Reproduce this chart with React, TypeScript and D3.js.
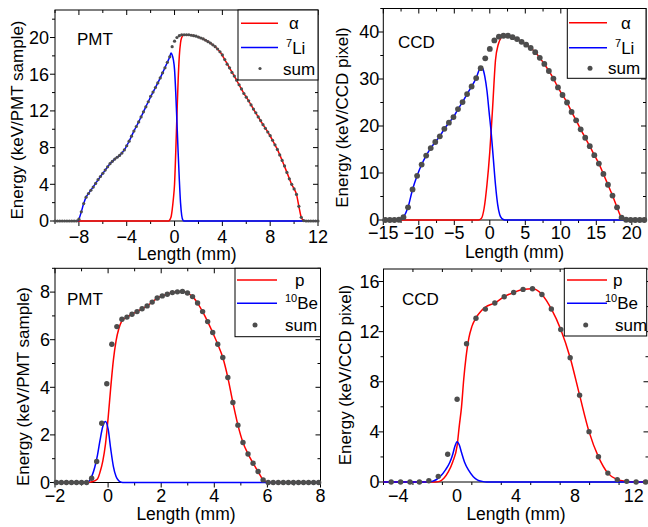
import React from 'react';
import * as d3 from 'd3';

// ---------- Panel A (PMT, alpha / 7Li) ----------
const A_SUM_X = [
  -10, -9.8, -9.6, -9.4, -9.2, -9, -8.8, -8.6, -8.4, -8.2,
  -8, -7.8, -7.6, -7.4, -7.2, -7, -6.8, -6.6, -6.4, -6.2,
  -6, -5.8, -5.6, -5.4, -5.2, -5, -4.8, -4.6, -4.4, -4.2,
  -4, -3.8, -3.6, -3.4, -3.2, -3, -2.8, -2.6, -2.4, -2.2,
  -2, -1.8, -1.6, -1.4, -1.2, -1, -0.8, -0.6, -0.4, -0.2,
  0, 0.2, 0.4, 0.6, 0.8, 1, 1.2, 1.4, 1.6, 1.8,
  2, 2.2, 2.4, 2.6, 2.8, 3, 3.2, 3.4, 3.6, 3.8,
  4, 4.2, 4.4, 4.6, 4.8, 5, 5.2, 5.4, 5.6, 5.8,
  6, 6.2, 6.4, 6.6, 6.8, 7, 7.2, 7.4, 7.6, 7.8,
  8, 8.2, 8.4, 8.6, 8.8, 9, 9.2, 9.4, 9.6, 9.8,
  10, 10.2, 10.4, 10.6, 10.8, 11, 11.2, 11.4, 11.6, 11.8,
  12,
];
const A_SUM_Y = [
  0, 0, 0, 0, 0, 0, 0, 0, 0, 0,
  0.2, 1.0, 1.9, 2.6, 3.0, 3.35, 3.7, 4.1, 4.5, 4.85,
  5.2, 5.55, 5.9, 6.25, 6.5, 6.75, 6.95, 7.15, 7.4, 7.75,
  8.2, 8.7, 9.25, 9.8, 10.3, 10.8, 11.35, 11.9, 12.45, 13.0,
  13.6, 14.05, 14.55, 15.05, 15.6, 16.15, 16.7, 17.3, 17.9, 19.0,
  19.6, 20.0, 20.2, 20.3, 20.3, 20.3, 20.3, 20.25, 20.2, 20.15,
  20.05, 19.95, 19.85, 19.7, 19.55, 19.4, 19.2, 19.0, 18.75, 18.45,
  18.1, 17.6, 17.1, 16.7, 16.2, 15.8, 15.35, 14.85, 14.4, 13.9,
  13.5, 13.1, 12.65, 12.2, 11.8, 11.35, 10.95, 10.5, 10.1, 9.7,
  9.3, 8.8, 8.3, 7.8, 7.2, 6.6, 6.0, 5.3, 4.6, 4.0,
  3.5, 2.9, 1.6, 0.4, 0.05, 0, 0, 0, 0, 0,
  0,
];
const A_ALPHA_X = [
  -8.1, -0.5, -0.3, -0.2, -0.1, 0, 0.1, 0.2, 0.3, 0.4,
  0.5, 0.6, 0.8, 1.0, 1.4, 1.8, 2.2, 2.6, 3.0, 3.4,
  3.8, 4.2, 4.6, 5.0, 5.4, 5.8, 6.2, 6.6, 7.0, 7.4,
  7.8, 8.2, 8.6, 9.0, 9.4, 9.8, 10.0, 10.2, 10.4, 10.6,
  10.8, 11.0, 12.0,
];
const A_ALPHA_Y = [
  0, 0, 0.4, 1.2, 2.4, 4.0, 7.5, 11.5, 15.3, 18.0,
  19.4, 20.0, 20.3, 20.3, 20.25, 20.15, 19.95, 19.7, 19.4, 19.0,
  18.45, 17.6, 16.7, 15.8, 14.85, 13.9, 13.1, 12.2, 11.35, 10.5,
  9.7, 8.8, 7.8, 6.6, 5.3, 4.0, 3.5, 2.9, 1.6, 0.4,
  0.05, 0, 0,
];
const A_LI_X = [
  -8.1, -8.0, -7.8, -7.6, -7.4, -7.2, -7.0, -6.6, -6.2, -5.8,
  -5.4, -5.0, -4.6, -4.2, -3.8, -3.4, -3.0, -2.6, -2.2, -1.8,
  -1.4, -1.0, -0.6, -0.4, -0.3, -0.2, -0.1, 0, 0.1, 0.2,
  0.3, 0.4, 0.5, 0.6, 0.7, 0.8, 12,
];
const A_LI_Y = [
  0, 0.2, 1.0, 1.9, 2.6, 3.0, 3.35, 4.1, 4.85, 5.55,
  6.25, 6.75, 7.15, 7.75, 8.7, 9.8, 10.8, 11.9, 13.0, 14.05,
  15.05, 16.15, 17.3, 17.9, 18.3, 18.1, 17.6, 16.5, 14.0, 10.8,
  7.5, 4.5, 2.0, 0.6, 0.1, 0, 0,
];
const A_XTICKS = [-8, -4, 0, 4, 8, 12];
const A_YTICKS = [0, 4, 8, 12, 16, 20];

// ---------- Panel B (CCD, alpha / 7Li) ----------
const B_SUM_X = [
  -14.72, -14.08, -13.44, -12.8, -12.16, -11.52, -10.88, -10.24, -9.6, -8.96,
  -8.32, -7.68, -7.04, -6.4, -5.76, -5.12, -4.48, -3.84, -3.2, -2.56,
  -1.92, -1.28, -0.64, 0, 0.64, 1.28, 1.92, 2.56, 3.2, 3.84,
  4.48, 5.12, 5.76, 6.4, 7.04, 7.68, 8.32, 8.96, 9.6, 10.24,
  10.88, 11.52, 12.16, 12.8, 13.44, 14.08, 14.72, 15.36, 16.0, 16.64,
  17.28, 17.92, 18.56, 19.2, 19.84, 20.48, 21.12, 21.76,
];
const B_SUM_Y = [
  0, 0, 0, 0.05, 0.6, 2.7, 6.5, 9.4, 11.8, 13.7,
  15.3, 16.6, 17.8, 19.4, 20.7, 21.9, 23.6, 25.1, 26.8, 28.4,
  30.2, 32.3, 34.4, 36.4, 38.2, 39.0, 39.2, 39.2, 38.9, 38.5,
  37.9, 37.3, 36.6, 35.7, 34.5, 33.2, 31.7, 30.1, 28.2, 26.6,
  25.0, 23.0, 21.2, 19.3, 17.5, 15.7, 13.8, 12.0, 9.8, 7.5,
  5.2, 2.7, 0.5, 0.05, 0, 0, 0, 0,
];
const B_ALPHA_X = [
  -15, -1.6, -1.2, -0.8, -0.4, 0, 0.4, 0.8, 1.2, 1.6,
  1.92, 2.56, 3.2, 3.84, 4.48, 5.12, 5.76, 6.4, 7.04, 7.68,
  8.32, 8.96, 9.6, 10.24, 10.88, 11.52, 12.16, 12.8, 13.44, 14.08,
  14.72, 15.36, 16.0, 16.64, 17.28, 17.92, 18.56, 19.2, 19.84, 22,
];
const B_ALPHA_Y = [
  0, 0, 0.3, 2.5, 7.5, 14.5, 24, 34, 37.4, 38.8,
  39.2, 39.2, 38.9, 38.5, 37.9, 37.3, 36.6, 35.7, 34.5, 33.2,
  31.7, 30.1, 28.2, 26.6, 25.0, 23.0, 21.2, 19.3, 17.5, 15.7,
  13.8, 12.0, 9.8, 7.5, 5.2, 2.7, 0.5, 0.05, 0, 0,
];
const B_LI_X = [
  -12.6, -12.16, -11.52, -10.88, -10.24, -9.6, -8.96, -8.32, -7.68, -7.04,
  -6.4, -5.76, -5.12, -4.48, -3.84, -3.2, -2.56, -1.92, -1.28, -1.0,
  -0.7, -0.4, -0.1, 0.2, 0.5, 0.8, 1.1, 1.4, 1.7, 2.0,
  2.3, 22,
];
const B_LI_Y = [
  0, 0.6, 2.7, 6.5, 9.4, 11.8, 13.7, 15.3, 16.6, 17.8,
  19.4, 20.7, 21.9, 23.6, 25.1, 26.8, 28.4, 30.2, 32.4, 32.2,
  30.5, 27.5, 23, 18.5, 13, 7.5, 3.4, 1.1, 0.3, 0.05,
  0, 0,
];
const B_XTICKS = [-15, -10, -5, 0, 5, 10, 15, 20];
const B_YTICKS = [0, 10, 20, 30, 40];

// ---------- Panel C (PMT, p / 10Be) ----------
const C_SUM_X = [
  -1.95, -1.76, -1.57, -1.38, -1.19, -1.0, -0.81, -0.62, -0.43, -0.24,
  -0.05, 0.14, 0.33, 0.52, 0.71, 0.9, 1.09, 1.28, 1.47, 1.66,
  1.85, 2.04, 2.23, 2.42, 2.61, 2.8, 2.99, 3.18, 3.37, 3.56,
  3.75, 3.94, 4.13, 4.32, 4.51, 4.7, 4.89, 5.08, 5.27, 5.46,
  5.65, 5.84, 6.03, 6.22, 6.41, 6.6, 6.79, 6.98, 7.17, 7.36,
  7.55, 7.74, 7.93,
];
const C_SUM_Y = [
  0, 0, 0, 0, 0, 0, 0, 0.18, 0.88, 2.49,
  4.15, 5.81, 6.55, 6.86, 6.95, 7.07, 7.18, 7.3, 7.42, 7.58,
  7.75, 7.84, 7.91, 7.98, 8.01, 8.03, 7.96, 7.81, 7.54, 7.18,
  6.76, 6.3, 5.81, 5.25, 4.41, 3.36, 2.41, 1.68, 1.2, 0.81,
  0.46, 0.11, 0, 0, 0, 0, 0, 0, 0, 0,
  0, 0, 0,
];
const C_P_X = [
  -2, -0.8, -0.6, -0.4, -0.3, -0.2, -0.1, 0, 0.1, 0.2,
  0.3, 0.4, 0.5, 0.6, 0.71, 0.9, 1.09, 1.28, 1.47, 1.66,
  1.85, 2.04, 2.23, 2.42, 2.61, 2.8, 2.99, 3.18, 3.37, 3.56,
  3.75, 3.94, 4.13, 4.32, 4.51, 4.7, 4.89, 5.08, 5.27, 5.46,
  5.65, 5.84, 6.03, 8,
];
const C_P_Y = [
  0, 0, 0.03, 0.15, 0.45, 0.9, 1.6, 2.7, 4.0, 5.15,
  5.95, 6.45, 6.75, 6.88, 6.95, 7.07, 7.18, 7.3, 7.42, 7.58,
  7.75, 7.84, 7.91, 7.98, 8.01, 8.03, 7.96, 7.81, 7.54, 7.18,
  6.76, 6.3, 5.81, 5.25, 4.41, 3.36, 2.41, 1.68, 1.2, 0.81,
  0.46, 0.11, 0, 0,
];
const C_BE_X = [-2, -0.8, -0.7, -0.6, -0.5, -0.4, -0.3, -0.2, -0.1, 0, 0.1, 0.2, 0.3, 0.4, 0.5, 0.6, 8];
const C_BE_Y = [0, 0, 0.08, 0.3, 0.65, 1.15, 1.8, 2.35, 2.56, 2.25, 1.4, 0.67, 0.25, 0.07, 0.01, 0, 0];
const C_XTICKS = [-2, 0, 2, 4, 6, 8];
const C_YTICKS = [0, 2, 4, 6, 8];

// ---------- Panel D (CCD, p / 10Be) ----------
const D_SUM_X = [
  -4.48, -3.84, -3.2, -2.56, -1.92, -1.28, -0.64, 0, 0.64, 1.28,
  1.92, 2.56, 3.2, 3.84, 4.48, 5.12, 5.76, 6.4, 7.04, 7.68,
  8.32, 8.96, 9.6, 10.24, 10.88, 11.52, 12.16, 12.8,
];
const D_SUM_Y = [
  0, 0, 0, 0, 0.1, 0.45, 2.22, 6.61, 11.03, 13.07,
  13.8, 14.29, 14.79, 15.13, 15.37, 15.42, 14.97, 13.81, 12.17, 9.92,
  6.93, 4.02, 2.01, 0.71, 0.19, 0.05, 0, 0,
];
const D_P_X = [
  -5, -1.5, -1.2, -0.9, -0.6, -0.3, 0, 0.15, 0.3, 0.45,
  0.6, 0.8, 1.0, 1.28, 1.6, 1.92, 2.56, 3.2, 3.84, 4.48,
  5.12, 5.76, 6.4, 7.04, 7.68, 8.32, 8.96, 9.6, 10.24, 10.88,
  11.52, 12.16, 13,
];
const D_P_Y = [
  0, 0, 0.05, 0.3, 0.8, 1.6, 2.9, 4.5, 6.0, 8.2,
  9.9, 11.5, 12.4, 13.1, 13.6, 13.95, 14.29, 14.79, 15.13, 15.37,
  15.42, 14.97, 13.81, 12.17, 9.92, 6.93, 4.02, 2.01, 0.71, 0.19,
  0.05, 0, 0,
];
const D_BE_X = [-5, -2.0, -1.7, -1.4, -1.1, -0.8, -0.5, -0.3, -0.15, 0, 0.15, 0.3, 0.5, 0.8, 1.1, 1.4, 1.7, 2.0, 13];
const D_BE_Y = [0, 0, 0.05, 0.2, 0.5, 0.95, 1.55, 2.2, 2.85, 3.22, 2.95, 2.35, 1.6, 0.9, 0.42, 0.15, 0.05, 0, 0];
const D_XTICKS = [-4, 0, 4, 8, 12];
const D_YTICKS = [0, 4, 8, 12, 16];

const FONT = "'Liberation Sans', Arial, Helvetica, sans-serif";
const RED = '#ff0000';
const BLUE = '#0000ff';
const DOT = '#4d4d4d';
const TICK_FS = 18;
const TITLE_FS = 17.5;
const LABEL_FS = 17;

type Leg = {
  box: [number, number, number, number];
  line: [number, number];
  rows: [number, number, number];
  dotX: number;
  textX: [number, number, number];
  l1: string;
  l2sup: string;
  l2: string;
  dotR: number;
};

type Cfg = {
  xDomain: [number, number];
  xRange: [number, number];
  yDomain: [number, number];
  yRange: [number, number];
  xTicks: number[];
  yTicks: number[];
  xMinor: number;
  yMinor: number;
  xLabelY: number;
  yLabelGap: number;
  xTitle: [number, number];
  yTitle: [number, number];
  yTitleText: string;
  tag: string;
  tagPos: [number, number];
  red: [number[], number[]];
  blue: [number[], number[]];
  sum: [number[], number[]];
  dotR: number;
  legend: Leg;
};

const fmt = (v: number) => (v < 0 ? '\u2212' + Math.abs(v) : String(v));

function Panel({ c }: { c: Cfg }) {
  const xs = d3.scaleLinear().domain(c.xDomain).range(c.xRange);
  const ys = d3.scaleLinear().domain(c.yDomain).range(c.yRange);
  const line = d3
    .line<[number, number]>()
    .x((d) => xs(d[0]))
    .y((d) => ys(d[1]))
    .curve(d3.curveMonotoneX);
  const zip = (a: number[], b: number[]) => a.map((v, i) => [v, b[i]] as [number, number]);
  const [x0, x1] = c.xRange;
  const [y0, y1] = c.yRange; // y0 bottom, y1 top
  const xMinorTicks = d3.range(c.xDomain[0], c.xDomain[1] + 1e-6, c.xMinor);
  const yMinorTicks = d3.range(c.yDomain[0], c.yDomain[1] + 1e-6, c.yMinor);
  const isMajor = (v: number, arr: number[]) => arr.some((t) => Math.abs(t - v) < 1e-6);
  const L = c.legend;
  return (
    <g>
      {xMinorTicks.map((v, i) => {
        const len = isMajor(v, c.xTicks) ? 5 : 3;
        const X = xs(v);
        return (
          <g key={'xt' + i}>
            <line x1={X} x2={X} y1={y0} y2={y0 + len} stroke="#000" strokeWidth={1} />
            <line x1={X} x2={X} y1={y1} y2={y1 + len} stroke="#000" strokeWidth={1} />
          </g>
        );
      })}
      {yMinorTicks.map((v, i) => {
        const len = isMajor(v, c.yTicks) ? 5 : 3;
        const Y = ys(v);
        return (
          <g key={'yt' + i}>
            <line x1={x0} x2={x0 - len} y1={Y} y2={Y} stroke="#000" strokeWidth={1} />
            <line x1={x1} x2={x1 - len} y1={Y} y2={Y} stroke="#000" strokeWidth={1} />
          </g>
        );
      })}
      <rect x={x0} y={y1} width={x1 - x0} height={y0 - y1} fill="none" stroke="#000" strokeWidth={1} />
      {c.xTicks.map((v) => (
        <text key={'xl' + v} x={xs(v)} y={c.xLabelY} textAnchor="middle" fontSize={TICK_FS} fontFamily={FONT}>
          {fmt(v)}
        </text>
      ))}
      {c.yTicks.map((v) => (
        <text
          key={'yl' + v}
          x={x0 - c.yLabelGap}
          y={ys(v)}
          dy="0.35em"
          textAnchor="end"
          fontSize={TICK_FS}
          fontFamily={FONT}
        >
          {fmt(v)}
        </text>
      ))}
      <text x={c.xTitle[0]} y={c.xTitle[1]} textAnchor="middle" fontSize={TITLE_FS} fontFamily={FONT}>
        Length (mm)
      </text>
      <text
        transform={`translate(${c.yTitle[0]},${c.yTitle[1]}) rotate(-90)`}
        textAnchor="middle"
        fontSize={LABEL_FS}
        fontFamily={FONT}
      >
        {c.yTitleText}
      </text>
      <text x={c.tagPos[0]} y={c.tagPos[1]} fontSize={LABEL_FS} fontFamily={FONT}>
        {c.tag}
      </text>
      <path d={line(zip(c.red[0], c.red[1])) || ''} fill="none" stroke={RED} strokeWidth={1.5} />
      <path d={line(zip(c.blue[0], c.blue[1])) || ''} fill="none" stroke={BLUE} strokeWidth={1.5} />
      {c.sum[0].map((v, i) => (
        <circle key={'d' + i} cx={xs(v)} cy={ys(c.sum[1][i])} r={c.dotR} fill={DOT} />
      ))}
      <rect
        x={L.box[0]}
        y={L.box[1]}
        width={L.box[2] - L.box[0]}
        height={L.box[3] - L.box[1]}
        fill="#fff"
        stroke="#000"
        strokeWidth={1}
      />
      <line x1={L.line[0]} x2={L.line[1]} y1={L.rows[0]} y2={L.rows[0]} stroke={RED} strokeWidth={1.5} />
      <line x1={L.line[0]} x2={L.line[1]} y1={L.rows[1]} y2={L.rows[1]} stroke={BLUE} strokeWidth={1.5} />
      <circle cx={L.dotX} cy={L.rows[2]} r={L.dotR} fill={DOT} />
      <text x={L.textX[0]} y={L.rows[0] + 6} fontSize={LABEL_FS} fontFamily={FONT}>
        {L.l1}
      </text>
      <text x={L.textX[1]} y={L.rows[1] + 6} fontSize={LABEL_FS} fontFamily={FONT}>
        <tspan fontSize={11} dy={-7}>
          {L.l2sup}
        </tspan>
        <tspan dy={7}>{L.l2}</tspan>
      </text>
      <text x={L.textX[2]} y={L.rows[2] + 6} fontSize={LABEL_FS} fontFamily={FONT}>
        sum
      </text>
    </g>
  );
}

const panels: Cfg[] = [
  {
    xDomain: [-10, 12],
    xRange: [55, 318],
    yDomain: [0, 23],
    yRange: [221, 10],
    xTicks: A_XTICKS,
    yTicks: A_YTICKS,
    xMinor: 2,
    yMinor: 2,
    xLabelY: 243,
    yLabelGap: 6,
    xTitle: [187, 260],
    yTitle: [23, 120],
    yTitleText: 'Energy (keV/PMT sample)',
    tag: 'PMT',
    tagPos: [77, 45],
    red: [A_ALPHA_X, A_ALPHA_Y],
    blue: [A_LI_X, A_LI_Y],
    sum: [A_SUM_X, A_SUM_Y],
    dotR: 1.6,
    legend: {
      box: [238, 10, 318, 80],
      line: [241, 278],
      rows: [23.3, 47.5, 68.5],
      dotX: 260,
      textX: [289, 286, 283],
      l1: '\u03b1',
      l2sup: '7',
      l2: 'Li',
      dotR: 1.6,
    },
  },
  {
    xDomain: [-15, 22],
    xRange: [383.3, 646],
    yDomain: [0, 45],
    yRange: [220, 8.5],
    xTicks: B_XTICKS,
    yTicks: B_YTICKS,
    xMinor: 2.5,
    yMinor: 5,
    xLabelY: 238.5,
    yLabelGap: 4,
    xTitle: [514.5, 258],
    yTitle: [348, 117.5],
    yTitleText: 'Energy (keV/CCD pixel)',
    tag: 'CCD',
    tagPos: [398, 48.3],
    red: [B_ALPHA_X, B_ALPHA_Y],
    blue: [B_LI_X, B_LI_Y],
    sum: [B_SUM_X, B_SUM_Y],
    dotR: 2.9,
    legend: {
      box: [567.3, 8.5, 646, 78.3],
      line: [569, 607],
      rows: [22.7, 47.7, 68.3],
      dotX: 590,
      textX: [621, 615, 608],
      l1: '\u03b1',
      l2sup: '7',
      l2: 'Li',
      dotR: 2.5,
    },
  },
  {
    xDomain: [-2, 8],
    xRange: [55, 320.5],
    yDomain: [0, 9],
    yRange: [482.5, 268.3],
    xTicks: C_XTICKS,
    yTicks: C_YTICKS,
    xMinor: 1,
    yMinor: 1,
    xLabelY: 501.5,
    yLabelGap: 5,
    xTitle: [186, 520],
    yTitle: [29, 386.5],
    yTitleText: 'Energy (keV/PMT sample)',
    tag: 'PMT',
    tagPos: [67, 305],
    red: [C_P_X, C_P_Y],
    blue: [C_BE_X, C_BE_Y],
    sum: [C_SUM_X, C_SUM_Y],
    dotR: 2.7,
    legend: {
      box: [235, 268.3, 320.5, 336.7],
      line: [237, 277],
      rows: [280, 303.3, 325],
      dotX: 255,
      textX: [295, 285, 285],
      l1: 'p',
      l2sup: '10',
      l2: 'Be',
      dotR: 2.5,
    },
  },
  {
    xDomain: [-5, 13],
    xRange: [383.5, 648.5],
    yDomain: [0, 17],
    yRange: [482, 269],
    xTicks: D_XTICKS,
    yTicks: D_YTICKS,
    xMinor: 2,
    yMinor: 2,
    xLabelY: 502,
    yLabelGap: 4,
    xTitle: [516, 520],
    yTitle: [350.5, 375],
    yTitleText: 'Energy (keV/CCD pixel)',
    tag: 'CCD',
    tagPos: [402, 305],
    red: [D_P_X, D_P_Y],
    blue: [D_BE_X, D_BE_Y],
    sum: [D_SUM_X, D_SUM_Y],
    dotR: 2.7,
    legend: {
      box: [564.3, 268.3, 646.7, 336],
      line: [567, 607],
      rows: [280, 303.3, 325],
      dotX: 585.7,
      textX: [613, 605, 615],
      l1: 'p',
      l2sup: '10',
      l2: 'Be',
      dotR: 2.5,
    },
  },
];

export default function App() {
  return (
    <svg
      width={648}
      height={527}
      viewBox="0 0 648 527"
      style={{ position: 'absolute', left: 0, top: 0, background: '#fff' }}
    >
      <rect x={0} y={0} width={648} height={527} fill="#fff" />
      {panels.map((c, i) => (
        <Panel key={i} c={c} />
      ))}
    </svg>
  );
}
